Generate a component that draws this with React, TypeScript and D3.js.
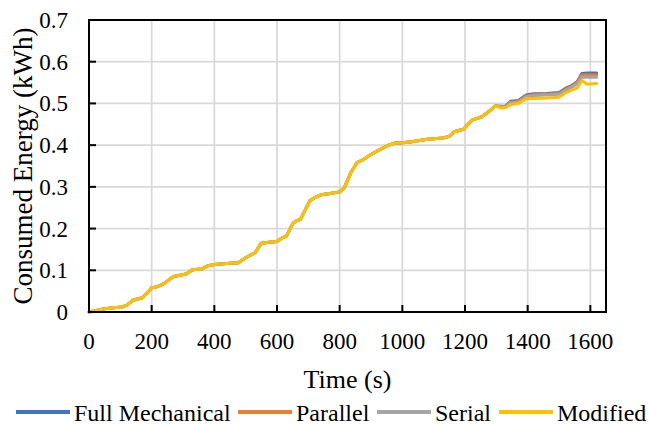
import React from "react";
import * as d3 from "d3";

// ---- data ----
const sharedTime = [0, 20, 50, 80, 105, 120, 140, 155, 170, 185, 200, 215, 235, 255, 270, 290, 310, 330, 360, 380, 400, 440, 477, 500, 530, 550, 575, 600, 615, 630, 650, 660, 675, 705, 720, 740, 770, 800, 815, 835, 855, 875, 895, 925, 950, 975, 1000, 1030, 1080, 1130, 1150, 1165, 1195, 1222, 1254, 1275, 1297];
const sharedEnergy = [0, 0.003, 0.008, 0.010, 0.012, 0.016, 0.028, 0.031, 0.034, 0.045, 0.058, 0.060, 0.066, 0.077, 0.085, 0.088, 0.091, 0.101, 0.103, 0.111, 0.114, 0.116, 0.118, 0.130, 0.142, 0.165, 0.167, 0.169, 0.177, 0.182, 0.212, 0.218, 0.222, 0.267, 0.274, 0.281, 0.284, 0.288, 0.298, 0.333, 0.358, 0.365, 0.375, 0.388, 0.398, 0.405, 0.406, 0.408, 0.414, 0.417, 0.421, 0.432, 0.438, 0.460, 0.468, 0.480, 0.494];
const tailTime = [1315, 1330, 1345, 1370, 1395, 1420, 1460, 1500, 1520, 1540, 1558, 1573, 1590, 1620];
const fullMechanicalTail = [0.493, 0.494, 0.505, 0.507, 0.520, 0.523, 0.524, 0.526, 0.536, 0.543, 0.552, 0.572, 0.573, 0.573];
const parallelTail = [0.492, 0.493, 0.503, 0.505, 0.518, 0.521, 0.522, 0.524, 0.534, 0.541, 0.550, 0.568, 0.568, 0.568];
const serialTail = [0.491, 0.492, 0.501, 0.503, 0.516, 0.519, 0.520, 0.522, 0.531, 0.538, 0.547, 0.563, 0.563, 0.563];
const modifiedTail = [0.489, 0.490, 0.497, 0.500, 0.511, 0.512, 0.513, 0.515, 0.525, 0.532, 0.537, 0.555, 0.546, 0.548];

const seriesNames = ["Full Mechanical", "Parallel", "Serial", "Modified"];
const seriesColors = ["#4472C4", "#ED7D31", "#A5A5A5", "#FFC000"];
const seriesTails = [fullMechanicalTail, parallelTail, serialTail, modifiedTail];

const xTicks = [0, 200, 400, 600, 800, 1000, 1200, 1400, 1600];
const yTicks = [0, 0.1, 0.2, 0.3, 0.4, 0.5, 0.6, 0.7];

const W = 649;
const H = 425;
const M = { left: 89, right: 606, top: 20, bottom: 312 };
const legendX = [16, 238, 377, 499];

export default function App() {
  const x = d3.scaleLinear().domain([0, 1650]).range([M.left, M.right]);
  const y = d3.scaleLinear().domain([0, 0.7]).range([M.bottom, M.top]);
  const time = [...sharedTime, ...tailTime];
  const line = d3
    .line<[number, number]>()
    .x((d) => x(d[0]))
    .y((d) => y(d[1]))
    .curve(d3.curveLinear);
  const txt = { fontFamily: '"Liberation Serif", "DejaVu Serif", serif' };

  return (
    <div style={{ position: "absolute", left: 0, top: 0 }}>
      <svg width={W} height={H} style={{ display: "block", background: "#fff" }}>
        <rect x={0} y={0} width={W} height={H} fill="#fff" />
        {/* grid */}
        {xTicks.map((t) => (
          <line key={"gx" + t} x1={x(t)} x2={x(t)} y1={M.top} y2={M.bottom} stroke="#d9d9d9" strokeWidth={1.75} />
        ))}
        {yTicks.map((t) => (
          <line key={"gy" + t} x1={M.left} x2={M.right} y1={y(t)} y2={y(t)} stroke="#d9d9d9" strokeWidth={1.75} />
        ))}
        {/* series */}
        {seriesNames.map((n, i) => {
          const vals = [...sharedEnergy, ...seriesTails[i]];
          const pts = time.map((t, k) => [t, vals[k]] as [number, number]);
          return (
            <path key={n} d={line(pts) || ""} fill="none" stroke={seriesColors[i]} strokeWidth={3} strokeLinejoin="round" strokeLinecap="round" />
          );
        })}
        {/* frame */}
        <rect x={M.left} y={M.top} width={M.right - M.left} height={M.bottom - M.top} fill="none" stroke="#000" strokeWidth={2} />
        {/* ticks */}
        {xTicks.map((t) => (
          <line key={"tx" + t} x1={x(t)} x2={x(t)} y1={M.bottom} y2={M.bottom - 7} stroke="#000" strokeWidth={2} />
        ))}
        {yTicks.map((t) => (
          <line key={"ty" + t} x1={M.left} x2={M.left + 7} y1={y(t)} y2={y(t)} stroke="#000" strokeWidth={2} />
        ))}
        {/* tick labels */}
        {xTicks.map((t) => (
          <text key={"lx" + t} x={x(t)} y={349} textAnchor="middle" style={txt} fontSize={23} fill="#000">
            {t}
          </text>
        ))}
        {yTicks.map((t) => (
          <text key={"ly" + t} x={68} y={y(t) + 8} textAnchor="end" style={txt} fontSize={23} fill="#000">
            {t === 0 ? "0" : t.toFixed(1)}
          </text>
        ))}
        {/* axis titles */}
        <text x={(M.left + M.right) / 2} y={388} textAnchor="middle" style={txt} fontSize={26} fill="#000">
          Time (s)
        </text>
        <text
          transform={`translate(32, ${(M.top + M.bottom) / 2}) rotate(-90)`}
          textAnchor="middle"
          style={txt}
          fontSize={27}
          fill="#000"
        >
          Consumed Energy (kWh)
        </text>
        {/* legend */}
        {seriesNames.map((n, i) => (
          <g key={"lg" + n}>
            <line x1={legendX[i]} x2={legendX[i] + 54} y1={412} y2={412} stroke={seriesColors[i]} strokeWidth={4} />
            <text x={legendX[i] + 58} y={421} style={txt} fontSize={24} fill="#000">
              {n}
            </text>
          </g>
        ))}
      </svg>
    </div>
  );
}
